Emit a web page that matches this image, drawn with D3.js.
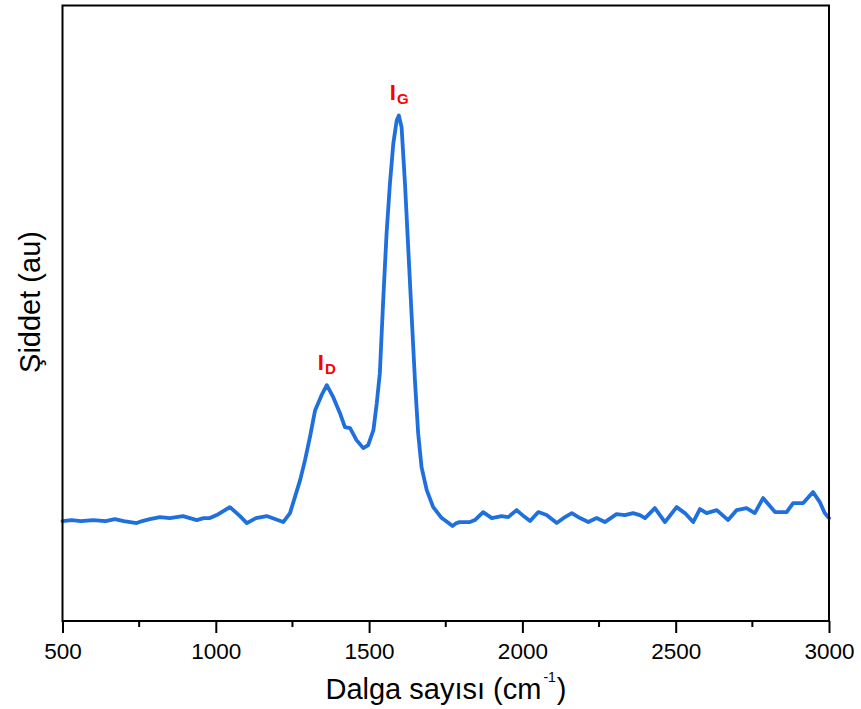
<!DOCTYPE html>
<html>
<head>
<meta charset="utf-8">
<script src="https://cdn.jsdelivr.net/npm/d3@7/dist/d3.min.js"></script>
<style>
  html, body { margin: 0; padding: 0; background: #fff; }
  svg { display: block; font-family: Arial, "Liberation Sans", sans-serif; }
</style>
</head>
<body>
<svg id="chart" width="861" height="709"></svg>
<script>
// Raman spectrum: wavenumber (cm-1) and intensity (arbitrary units)
const wavenumber = [
  500, 530, 560, 600, 640, 671, 700, 742, 760, 785, 818, 850, 893, 938, 960, 981, 1003, 1046, 1079, 1101, 1131, 1166, 1193,
  1220, 1242, 1258, 1275, 1291, 1307, 1324, 1345, 1362, 1383, 1405, 1421, 1438, 1459, 1481,
  1497, 1514, 1525, 1535, 1546, 1557, 1568, 1579, 1590, 1597, 1606, 1617, 1628, 1639, 1650,
  1660, 1671, 1688, 1709, 1737, 1755, 1772, 1785, 1795, 1829, 1845, 1872, 1900, 1932, 1954,
  1981, 2008, 2025, 2052, 2079, 2112, 2139, 2161, 2188, 2215, 2242, 2269, 2307, 2334, 2361,
  2383, 2400, 2432, 2465, 2503, 2530, 2557, 2579, 2601, 2634, 2671, 2699, 2731, 2758, 2785,
  2824, 2862, 2883, 2916, 2948, 2970, 2986, 2997, 3000
];
const intensity = [
  100, 101, 100, 101, 100, 102, 100, 98, 100, 102, 104, 103, 105, 101, 103, 103, 106, 114, 105, 98, 103, 105, 102,
  99, 108, 124, 141, 161, 184, 211, 226, 236, 224, 208, 194, 193, 181, 173,
  176, 191, 218, 248, 321, 388, 438, 478, 501, 506, 494, 438, 371, 304, 238,
  188, 154, 131, 114, 103, 99, 95, 98, 99, 99, 101, 109, 103, 105, 104,
  111, 104, 100, 109, 106, 98, 104, 108, 103, 99, 103, 99, 107, 106, 108,
  106, 103, 113, 99, 114, 108, 99, 112, 108, 111, 101, 111, 113, 108, 123,
  109, 109, 118, 118, 129, 119, 108, 104, 103
];
const xTicks = [500, 1000, 1500, 2000, 2500, 3000];
const xMinorTicks = [750, 1250, 1750, 2250, 2750];
const peakLabels = [
  { main: "I", sub: "D", wn: 1362, value: 236 },
  { main: "I", sub: "G", wn: 1597, value: 506 }
];

const svg = d3.select("#chart");
const margin = { left: 62.5, top: 5.5, right: 32, bottom: 88 };
const W = 861, H = 709;

const x = d3.scaleLinear().domain([500, 3000]).range([margin.left, W - margin.right]);
const y = d3.scaleLinear().domain([0, 616]).range([H - margin.bottom, margin.top]);

const data = wavenumber.map((w, i) => ({ w, v: intensity[i] }));

// spectrum line
svg.append("path")
  .datum(data)
  .attr("fill", "none")
  .attr("stroke", "#1f6fdd")
  .attr("stroke-width", 3.8)
  .attr("stroke-linejoin", "round")
  .attr("stroke-linecap", "round")
  .attr("d", d3.line().x(d => x(d.w)).y(d => y(d.v)));

// frame
svg.append("rect")
  .attr("x", margin.left).attr("y", margin.top)
  .attr("width", x(3000) - x(500)).attr("height", y(0) - y(616))
  .attr("fill", "none").attr("stroke", "#000").attr("stroke-width", 2);

// bottom axis with major and minor ticks
const xAxisG = svg.append("g").attr("transform", `translate(0,${y(0)})`);
xAxisG.call(d3.axisBottom(x).tickValues(xTicks).tickSize(12).tickPadding(10).tickFormat(d3.format("d")))
  .call(g => g.select(".domain").remove())
  .call(g => g.selectAll(".tick line").attr("stroke-width", 2))
  .call(g => g.selectAll(".tick text").attr("font-size", 22.5).attr("fill", "#000")
    .attr("font-family", "Arial, 'Liberation Sans', sans-serif"));
xAxisG.selectAll(".minor")
  .data(xMinorTicks).enter().append("line")
  .attr("x1", d => x(d)).attr("x2", d => x(d))
  .attr("y1", 0).attr("y2", 6)
  .attr("stroke", "#000").attr("stroke-width", 2);

// x axis title
const xt = svg.append("text")
  .attr("x", 446).attr("y", 699)
  .attr("text-anchor", "middle")
  .attr("font-size", 29);
xt.append("tspan").text("Dalga sayısı (cm");
xt.append("tspan").text("-1").attr("font-size", 14).attr("dy", -17).attr("dx", 2);
xt.append("tspan").text(")").attr("dy", 17).attr("dx", 1);

// y axis title
svg.append("text")
  .attr("transform", "translate(40,302) rotate(-90)")
  .attr("text-anchor", "middle")
  .attr("font-size", 29)
  .text("Şiddet (au)");

// peak labels
peakLabels.forEach(p => {
  const t = svg.append("text")
    .attr("x", x(p.wn) - 9)
    .attr("y", y(p.value) - 15)
    .attr("fill", "#ff0000")
    .attr("font-weight", "bold")
    .attr("font-size", 22);
  t.append("tspan").text(p.main);
  t.append("tspan").text(p.sub).attr("font-size", 15).attr("dy", 4).attr("dx", 1);
});
</script>
</body>
</html>
